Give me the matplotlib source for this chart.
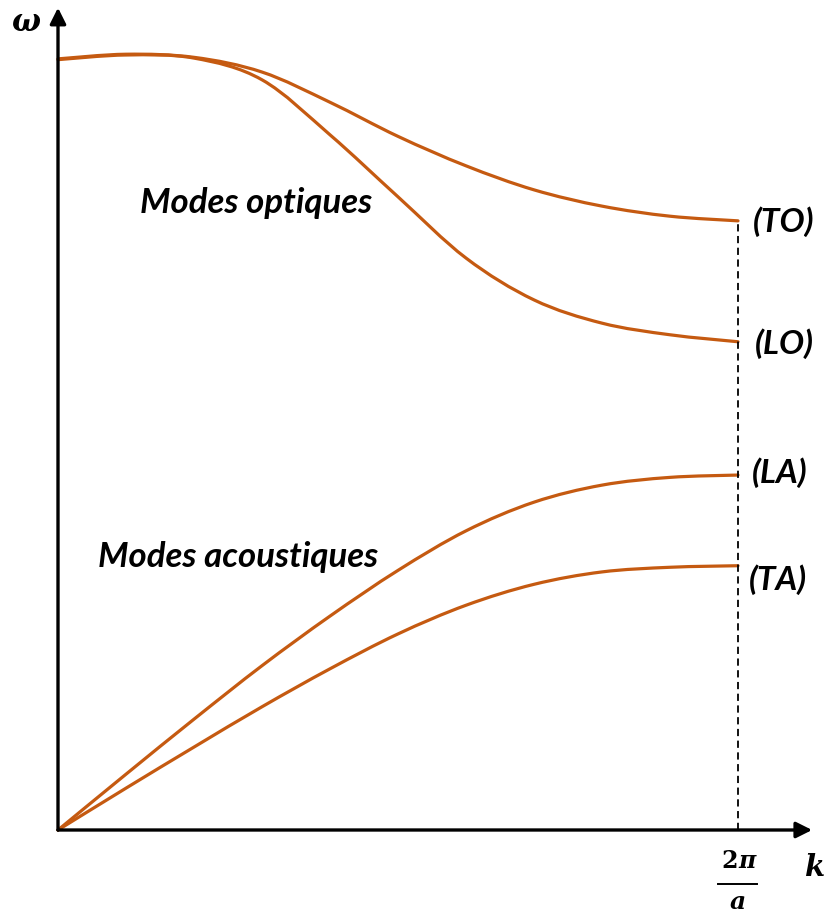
import matplotlib
matplotlib.use('Agg')
import matplotlib.pyplot as plt
import numpy as np
from matplotlib.path import Path
from matplotlib.patches import PathPatch

# vecteur d'onde k en unités de 2π/a, pulsation ω normalisée
k = [0, 0.1, 0.2, 0.3, 0.4, 0.5, 0.6, 0.7, 0.8, 0.9, 1.0]
w_to = [0.995, 1.001, 0.997, 0.978, 0.939, 0.895, 0.857, 0.826, 0.805, 0.792, 0.786]
w_lo = [0.994, 1.000, 0.996, 0.968, 0.897, 0.817, 0.738, 0.684, 0.654, 0.639, 0.630]
w_la = [0, 0.072, 0.143, 0.212, 0.276, 0.335, 0.386, 0.423, 0.445, 0.455, 0.458]
w_ta = [0, 0.054, 0.107, 0.159, 0.208, 0.253, 0.290, 0.317, 0.333, 0.339, 0.341]

branches = ['(TO)', '(LO)', '(LA)', '(TA)']
orange = '#C55A11'


def courbe_lisse(ax, x, y, **kw):
    # tracé lissé (Catmull-Rom converti en Bézier cubiques) passant par les points
    p = np.column_stack([x, y])
    ext = np.vstack([p[0], p, p[-1]])
    verts = [p[0]]
    codes = [Path.MOVETO]
    for i in range(len(p) - 1):
        p0, p1, p2, p3 = ext[i], ext[i + 1], ext[i + 2], ext[i + 3]
        verts += [p1 + (p2 - p0) / 6, p2 - (p3 - p1) / 6, p2]
        codes += [Path.CURVE4] * 3
    ax.add_patch(PathPatch(Path(verts, codes), fill=False, **kw))


fig = plt.figure(figsize=(8.26, 9.15), dpi=100)
ax = fig.add_axes([0, 0, 1, 1])
ax.set_xlim(-58 / 680, 768 / 680)
ax.set_ylim(-85 / 775, 830 / 775)
ax.axis('off')

for w in [w_to, w_lo, w_la, w_ta]:
    courbe_lisse(ax, k, w, edgecolor=orange, lw=2.3, capstyle='round', joinstyle='round')

# limite de la zone de Brillouin
ax.plot([1, 1], [0, w_to[-1]], color='black', lw=1.3, ls=(0, (4, 2.5)))

# axes fléchés
arrow = dict(arrowstyle='-|>', lw=2.4, color='black', mutation_scale=24, shrinkA=0, shrinkB=0)
ax.annotate('', xy=(0, 1.061), xytext=(0, 0), arrowprops=arrow)
ax.annotate('', xy=(1.109, 0), xytext=(0, 0), arrowprops=arrow)

lbl = dict(family='Lato', weight='bold', style='italic', color='black')
ax.text(0.1206, 0.796, 'Modes optiques', ha='left', va='baseline', fontsize=25, **lbl)
ax.text(0.0588, 0.339, 'Modes acoustiques', ha='left', va='baseline', fontsize=25, **lbl)

lx = [1.022, 1.025, 1.021, 1.016]
ly = [0.785, 0.628, 0.461, 0.323]
for name, x, y in zip(branches, lx, ly):
    ax.text(x, y, name, ha='left', va='center', fontsize=24, **lbl)

ax.text(-0.0471, 1.042, 'ω', family='DejaVu Serif', weight='bold', style='italic',
        fontsize=22, ha='center', va='center')
ax.text(1.128, -0.049, 'k', family='DejaVu Serif', weight='bold', style='italic',
        fontsize=21, ha='right', va='center')

# graduation 2π/a
ax.text(1.0, -0.040, '2', family='DejaVu Serif', weight='bold', fontsize=17, ha='right', va='center')
ax.text(1.0, -0.040, 'π', family='DejaVu Serif', weight='bold', style='italic', fontsize=17,
        ha='left', va='center')
ax.plot([1 - 0.029, 1 + 0.028], [-0.0697, -0.0697], color='black', lw=1.4)
ax.text(1.0, -0.0929, 'a', family='DejaVu Serif', weight='bold', style='italic', fontsize=18,
        ha='center', va='center')

fig.savefig('out.png', dpi=100)
